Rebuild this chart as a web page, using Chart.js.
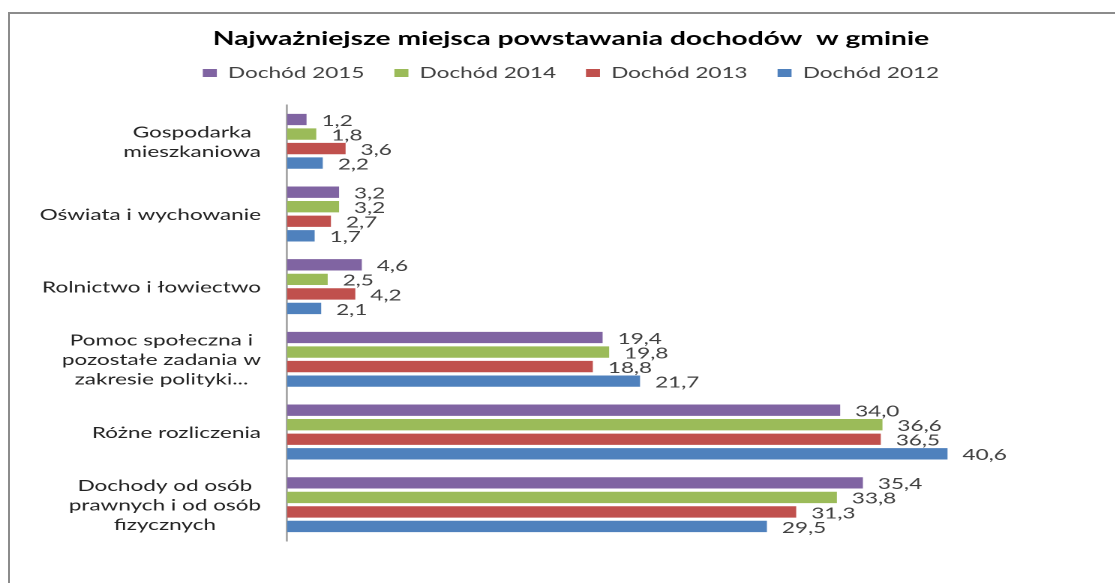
<!DOCTYPE html>
<html>
<head>
<meta charset="utf-8">
<script src="https://cdn.jsdelivr.net/npm/chart.js@4"></script>
<style>
  html, body { margin: 0; padding: 0; background: #fff; overflow: hidden; width: 1115px; height: 583px; }
  #frame { position: absolute; left: 8px; top: 12px; width: 1130px; height: 600px;
           border-left: 2px solid #8c8c8c; border-top: 2px solid #8c8c8c; }
  #wrap { position: absolute; left: 0; top: 0; height: 583px; transform-origin: 0 0; }
</style>
</head>
<body>
<div id="frame"></div>
<div id="wrap"><canvas id="c"></canvas></div>
<script>
const categories = [
  ["Gospodarka", "mieszkaniowa"],
  "Oświata i wychowanie",
  "Rolnictwo i łowiectwo",
  ["Pomoc społeczna i", "pozostałe zadania w", "zakresie polityki..."],
  "Różne rozliczenia",
  ["Dochody od osób", "prawnych i od osób", "fizycznych"]
];
const seriesNames = ["Dochód 2015", "Dochód 2014", "Dochód 2013", "Dochód 2012"];
const dochod2015 = [1.2, 3.2, 4.6, 19.4, 34.0, 35.4];
const dochod2014 = [1.8, 3.2, 2.5, 19.8, 36.6, 33.8];
const dochod2013 = [3.6, 2.7, 4.2, 18.8, 36.5, 31.3];
const dochod2012 = [2.2, 1.7, 2.1, 21.7, 40.6, 29.5];
const seriesColors = ["#8064A2", "#9BBB59", "#C0504D", "#4F81BD"];

// the reference is stretched sideways, so draw narrower and widen with css
const S = 1.5;
const W = 1115 / S;
const wrap = document.getElementById("wrap");
wrap.style.width = W + "px";
wrap.style.transform = "scaleX(" + S + ")";

const X_MAX = 50;
const AXIS_X = 287 / S;                       // where the bars start
const PLOT_RIGHT = (287 + X_MAX * 16.27) / S;
const MID = 571 / S;                          // centre of title and legend
const padRight = W - PLOT_RIGHT;
const padLeft = 2 * MID - W + padRight;

const labelPlugin = {
  id: "labelPlugin",
  afterDatasetsDraw(chart) {
    const ctx = chart.ctx;
    const yScale = chart.scales.y;
    ctx.save();
    ctx.font = "15px Lato";
    ctx.textBaseline = "middle";

    // values at the end of each bar
    ctx.fillStyle = "#404040";
    ctx.textAlign = "left";
    chart.data.datasets.forEach((ds, i) => {
      chart.getDatasetMeta(i).data.forEach((bar, j) => {
        const txt = ds.data[j].toFixed(1).replace(".", ",");
        ctx.fillText(txt, bar.x + 15 / S, bar.y + 1.5);
      });
    });

    // category names: lines centred in a block set against the axis
    ctx.fillStyle = "#222";
    ctx.textAlign = "center";
    categories.forEach((c, i) => {
      const lines = Array.isArray(c) ? c : [c];
      const widest = Math.max(...lines.map(l => ctx.measureText(l).width));
      const cx = yScale.right - 26 / S - widest / 2;
      const cy = yScale.getPixelForValue(i);
      lines.forEach((l, k) => {
        ctx.fillText(l, cx, cy + (k - (lines.length - 1) / 2) * 19.5 + 1);
      });
    });
    ctx.restore();
  }
};

const datasets = [dochod2015, dochod2014, dochod2013, dochod2012].map((d, i) => ({
  label: seriesNames[i],
  data: d,
  backgroundColor: seriesColors[i],
  borderWidth: 0,
  categoryPercentage: 0.8,
  barPercentage: 0.78
}));

new Chart(document.getElementById("c"), {
  type: "bar",
  data: { labels: categories, datasets: datasets },
  plugins: [labelPlugin],
  options: {
    indexAxis: "y",
    responsive: true,
    maintainAspectRatio: false,
    animation: false,
    devicePixelRatio: 2,
    layout: { padding: { left: padLeft, right: padRight, top: 0, bottom: 42 } },
    scales: {
      x: { display: false, min: 0, max: X_MAX },
      y: {
        grid: { display: false },
        border: { color: "#a6a6a6", width: 1.4 },
        ticks: { display: false },
        afterFit(scale) { scale.width = AXIS_X - padLeft; }
      }
    },
    plugins: {
      title: {
        display: true,
        text: "Najważniejsze miejsca powstawania dochodów  w gminie",
        color: "#000",
        font: { family: "Lato", size: 18.8, weight: "bold" },
        padding: { top: 27.7, bottom: -4.8 }
      },
      subtitle: {
        // empty spacer between legend and plot
        display: true,
        text: "",
        weight: 500,
        font: { size: 1, lineHeight: "14.5px" },
        padding: 0
      },
      legend: {
        position: "top",
        labels: {
          boxWidth: 14 / S,
          boxHeight: 8,
          padding: 20,
          color: "#404040",
          font: { family: "Lato", size: 15 }
        }
      },
      tooltip: { enabled: false }
    }
  }
});
</script>
</body>
</html>
